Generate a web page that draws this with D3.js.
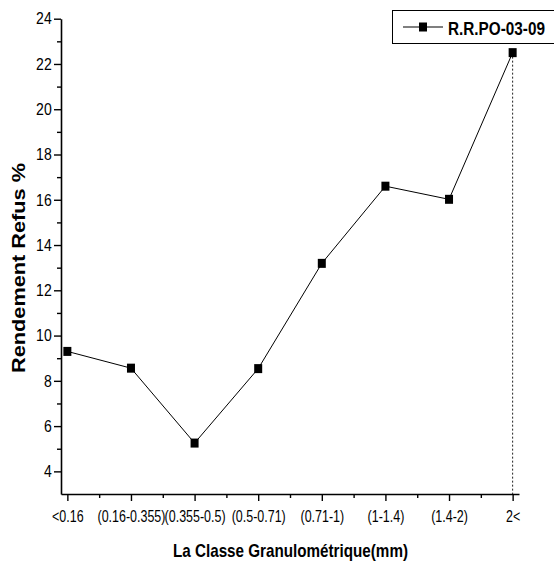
<!DOCTYPE html>
<html>
<head>
<meta charset="utf-8">
<script src="https://cdn.jsdelivr.net/npm/d3@7"></script>
<style>
  html, body { margin: 0; padding: 0; background: #fff; }
  svg { display: block; }
  text { font-family: "Liberation Sans", Arial, sans-serif; fill: #000; }
</style>
</head>
<body>
<svg id="chart" width="554" height="570"></svg>
<script>
// Size classes (mm) and the refusal yield for each one
const categories = ["<0.16", "(0.16-0.355)", "(0.355-0.5)", "(0.5-0.71)", "(0.71-1)", "(1-1.4)", "(1.4-2)", "2<"];
const seriesName = "R.R.PO-03-09";
const values = [9.3, 8.56, 5.25, 8.54, 13.19, 16.6, 16.02, 22.5];
const yTicks = [4, 6, 8, 10, 12, 14, 16, 18, 20, 22, 24];

const svg = d3.select("#chart");
const plotLeft = 61, plotRight = 519, plotTop = 18.7, plotBottom = 494;

const x = d3.scaleLinear().domain([-0.1, categories.length - 1 + 0.1]).range([plotLeft, plotRight]);
const y = d3.scaleLinear().domain([3, 24]).range([plotBottom, plotTop]);

const g = svg.append("g");

// X axis: major ticks at each class, minor ticks between them
const xAxis = d3.axisBottom(x)
  .tickValues(d3.range(categories.length))
  .tickFormat(i => categories[i])
  .tickSize(7).tickSizeOuter(0).tickPadding(10);
const gx = g.append("g").attr("transform", `translate(0,${plotBottom})`).call(xAxis);
gx.select(".domain").attr("stroke-width", 1.6);
gx.selectAll(".tick line").attr("stroke-width", 1.4);
gx.selectAll(".tick text")
  .attr("font-size", 16).attr("dy", "0.71em")
  .attr("transform", "scale(0.78,1)");
const xMinor = d3.axisBottom(x)
  .tickValues(d3.range(categories.length - 1).map(i => i + 0.5))
  .tickSize(4).tickSizeOuter(0).tickFormat("");
const gxm = g.append("g").attr("transform", `translate(0,${plotBottom})`).call(xMinor);
gxm.select(".domain").remove();
gxm.selectAll(".tick line").attr("stroke-width", 1.4);

// Y axis: major ticks every 2, minor on odd values
const yAxis = d3.axisLeft(y).tickValues(yTicks).tickSize(7).tickSizeOuter(0).tickPadding(3);
const gy = g.append("g").attr("transform", `translate(${plotLeft},0)`).call(yAxis);
gy.select(".domain").attr("stroke-width", 1.6);
gy.selectAll(".tick line").attr("stroke-width", 1.4);
gy.selectAll(".tick text")
  .attr("font-size", 16.5).attr("x", 0)
  .attr("transform", "translate(-9.3,0) scale(0.85,1)");
const yMinor = d3.axisLeft(y).tickValues(d3.range(5, 24, 2)).tickSize(4).tickSizeOuter(0).tickFormat("");
const gym = g.append("g").attr("transform", `translate(${plotLeft},0)`).call(yMinor);
gym.select(".domain").remove();
gym.selectAll(".tick line").attr("stroke-width", 1.4);

// Drop line from the last point down to the axis
const last = values.length - 1;
g.append("line")
  .attr("x1", x(last)).attr("x2", x(last))
  .attr("y1", y(values[last])).attr("y2", plotBottom)
  .attr("stroke", "#222").attr("stroke-width", 1)
  .attr("stroke-dasharray", "2,2");

// Series line and square markers
const line = d3.line().x((d, i) => x(i)).y(d => y(d));
g.append("path").datum(values)
  .attr("d", line).attr("fill", "none")
  .attr("stroke", "#000").attr("stroke-width", 1);
g.selectAll("rect.pt").data(values).join("rect")
  .attr("class", "pt")
  .attr("x", (d, i) => x(i) - 4).attr("y", d => y(d) - 4.5)
  .attr("width", 8).attr("height", 9).attr("fill", "#000");

// Axis titles (condensed to the narrow face used on the chart)
svg.append("text")
  .attr("x", 173).attr("y", 557)
  .attr("font-size", 19).attr("font-weight", "bold")
  .attr("textLength", 235).attr("lengthAdjust", "spacingAndGlyphs")
  .text("La Classe Granulométrique(mm)");
svg.append("text")
  .attr("transform", "translate(25,373) rotate(-90)")
  .attr("font-size", 18.5).attr("font-weight", "bold")
  .attr("textLength", 210).attr("lengthAdjust", "spacingAndGlyphs")
  .text("Rendement Refus %");

// Legend
const lg = svg.append("g");
lg.append("rect")
  .attr("x", 392.5).attr("y", 10.5).attr("width", 170).attr("height", 33)
  .attr("fill", "#fff").attr("stroke", "#000").attr("stroke-width", 1);
lg.append("line")
  .attr("x1", 403).attr("x2", 443).attr("y1", 27).attr("y2", 27)
  .attr("stroke", "#000").attr("stroke-width", 1.2);
lg.append("rect")
  .attr("x", 419).attr("y", 22.5).attr("width", 8).attr("height", 9).attr("fill", "#000");
lg.append("text")
  .attr("x", 448).attr("y", 35)
  .attr("font-size", 18.5).attr("font-weight", "bold")
  .attr("textLength", 97).attr("lengthAdjust", "spacingAndGlyphs")
  .text(seriesName);
</script>
</body>
</html>
